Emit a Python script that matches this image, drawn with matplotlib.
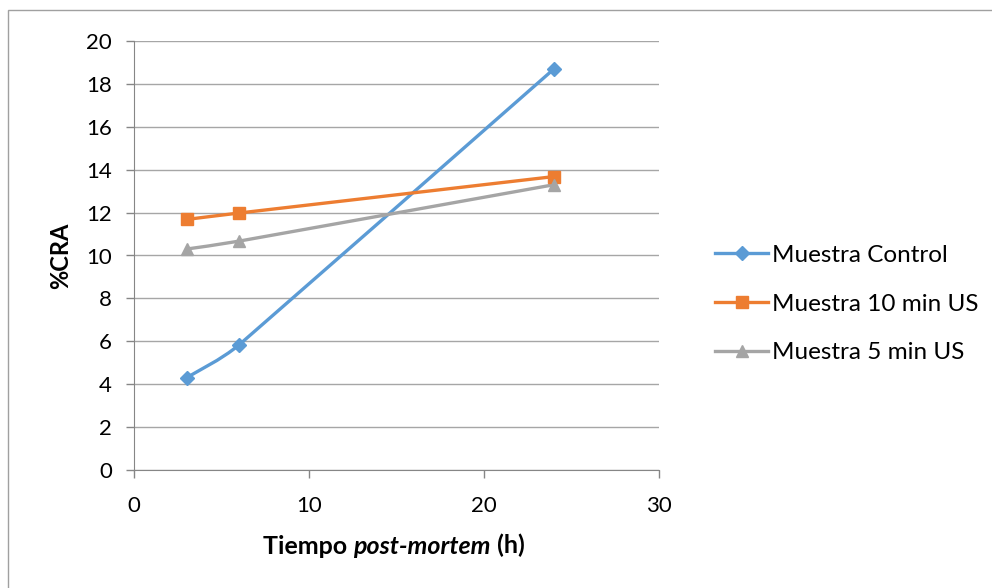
import matplotlib.pyplot as plt
import numpy as np
from matplotlib.path import Path
from matplotlib.patches import PathPatch, Rectangle
from matplotlib.lines import Line2D

plt.rcParams['font.family'] = ['Lato', 'DejaVu Sans']

# data
hours = [3, 6, 24]
control = [4.3, 5.83, 18.7]
us10 = [11.68, 11.98, 13.68]
us5 = [10.3, 10.67, 13.3]

series = [
    ("Muestra Control", control, '#5B9BD5', 'D', 7),
    ("Muestra 10 min US", us10, '#ED7D31', 's', 8.5),
    ("Muestra 5 min US", us5, '#A5A5A5', '^', 8.5),
]


def smooth_path(x, y):
    # Excel-like smoothed line: cubic bezier through the points,
    # tangents clipped so a segment never loops back
    p = np.column_stack([x, y]).astype(float)
    n = len(p)
    tang = []
    for i in range(n):
        a = p[max(i - 1, 0)]
        b = p[min(i + 1, n - 1)]
        t = (b - a) / 6
        lim = []
        if i > 0:
            lim.append((p[i, 0] - p[i - 1, 0]) / 3)
        if i < n - 1:
            lim.append((p[i + 1, 0] - p[i, 0]) / 3)
        if t[0] > min(lim):
            t = t * min(lim) / t[0]
        tang.append(t)
    verts = [p[0]]
    codes = [Path.MOVETO]
    for i in range(n - 1):
        verts += [p[i] + tang[i], p[i + 1] - tang[i + 1], p[i + 1]]
        codes += [Path.CURVE4] * 3
    return Path(verts, codes)


fig = plt.figure(figsize=(9.92, 5.88), dpi=100)
fig.patches.append(Rectangle((8 / 992, -0.05), 1.1, 1 - 10 / 588 + 0.05,
                             transform=fig.transFigure, fill=False,
                             edgecolor='#a0a0a0', linewidth=1))
ax = fig.add_axes([134 / 992, 1 - 470 / 588, 525 / 992, 429 / 588])

handles = []
for name, vals, col, mk, ms in series:
    ax.add_patch(PathPatch(smooth_path(hours, vals), fill=False,
                           edgecolor=col, linewidth=2.4, zorder=3))
    ax.plot(hours, vals, linestyle='none', marker=mk, markersize=ms,
            color=col, zorder=4)
    handles.append(Line2D([], [], color=col, linewidth=2.4, marker=mk,
                          markersize=ms, label=name))

ax.set_xlim(0, 30)
ax.set_ylim(0, 20)
ax.set_xticks([0, 10, 20, 30])
ax.set_yticks(range(0, 21, 2))
ax.grid(axis='y', color='#a6a6a6', linewidth=1)
ax.set_axisbelow(True)
for s in ['top', 'right']:
    ax.spines[s].set_visible(False)
for s in ['left', 'bottom']:
    ax.spines[s].set_color('#868686')
ax.tick_params(axis='both', colors='#868686', labelcolor='black',
               labelsize=16, length=6, width=1)
ax.tick_params(axis='x', pad=13)
ax.tick_params(axis='y', pad=10)

ax.set_ylabel('%CRA', fontsize=17, fontweight='bold', labelpad=10)

# x label with italic part
t1 = fig.text(263 / 992, 1 - 546 / 588, 'Tiempo ', fontsize=18,
              fontweight='bold', va='center', ha='left')
t2 = ax.annotate('post-mortem', xy=(1, 0), xycoords=t1, xytext=(0, 0),
                 textcoords='offset points', fontsize=18, fontweight='bold',
                 fontstyle='italic', va='bottom', ha='left')
ax.annotate(' (h)', xy=(1, 0), xycoords=t2, xytext=(0, 0),
            textcoords='offset points', fontsize=18, fontweight='bold',
            va='bottom', ha='left')

fig.legend(handles=handles, loc='center left', frameon=False,
           bbox_to_anchor=(693 / 992, 1 - 304 / 588), fontsize=17.5,
           handlelength=2.2, handletextpad=0.15, labelspacing=1.15)

fig.savefig('out.png', dpi=100)
